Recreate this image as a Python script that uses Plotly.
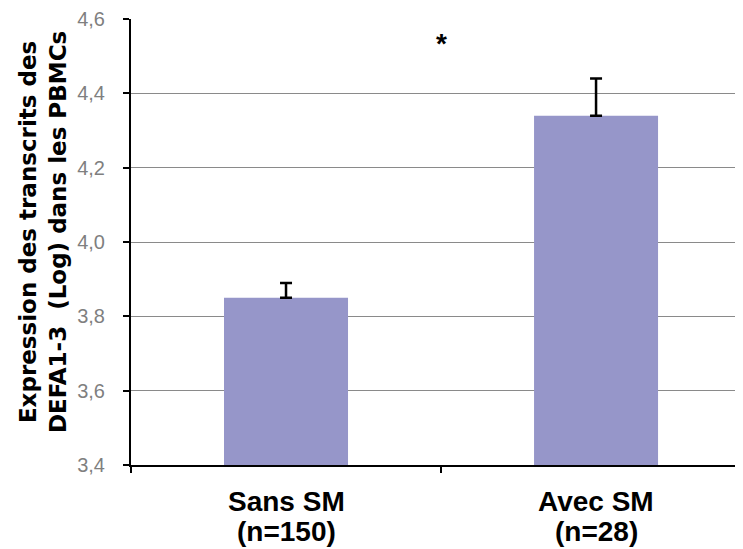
import plotly.graph_objects as go

groups = ["Sans SM", "Avec SM"]
n_labels = ["(n=150)", "(n=28)"]
means = [3.85, 4.34]
err_up = [0.04, 0.10]
y_ticks = [3.4, 3.6, 3.8, 4.0, 4.2, 4.4, 4.6]
y_title = "Expression des transcrits des<br>DEFA1-3  (Log) dans les PBMCs"
sig_label = "*"
sig_y = 4.535

fig = go.Figure()
fig.add_trace(go.Bar(
    x=groups, y=means, width=0.4,
    marker=dict(color="#9696C9", line=dict(width=0)),
    error_y=dict(type="data", array=err_up, arrayminus=[0, 0], symmetric=False,
                 color="black", thickness=2.5, width=6),
))
for g, n in zip(groups, n_labels):
    fig.add_annotation(x=g, y=-0.0826, xref="x", yref="paper", text="<b>" + g + "</b>",
                       showarrow=False, font=dict(family="Liberation Sans, Arial", size=28, color="black"),
                       xanchor="center", yanchor="middle")
    fig.add_annotation(x=g, y=-0.150, xref="x", yref="paper", text="<b>" + n + "</b>",
                       showarrow=False, font=dict(family="Liberation Sans, Arial", size=28, color="black"),
                       xanchor="center", yanchor="middle")
fig.add_annotation(x=0.5, y=sig_y, xref="x", yref="y", text="<b>" + sig_label + "</b>",
                   showarrow=False, font=dict(family="Liberation Sans, Arial", size=28, color="black"),
                   yanchor="middle", xanchor="center")
fig.add_annotation(x=-0.144, y=0.522, xref="paper", yref="paper", text="<b>" + y_title + "</b>",
                   textangle=-90, showarrow=False,
                   font=dict(family="DejaVu Sans", size=23, color="black"),
                   xanchor="center", yanchor="middle")

fig.update_layout(
    width=735, height=541,
    margin=dict(l=123, r=0, t=9, b=84),
    paper_bgcolor="white", plot_bgcolor="white",
    separators=",.",
    showlegend=False,
    font=dict(family="Liberation Sans, Arial"),
)
fig.update_xaxes(
    type="category", range=[-0.5, 1.474],
    showline=True, linecolor="black", linewidth=2,
    ticks="outside", tickson="boundaries", ticklen=6, tickcolor="black", tickwidth=2,
    showticklabels=False,
    showgrid=False,
)
fig.update_yaxes(
    range=[3.4, 4.6], tickvals=y_ticks, tickformat=".1f",
    showline=True, linecolor="black", linewidth=2,
    ticks="outside", ticklen=6, tickcolor="black", tickwidth=2,
    tickfont=dict(family="Liberation Sans, Arial", size=20, color="#7f7f7f"),
    ticklabelstandoff=14, ticklabeloverflow="allow",
    showgrid=True, gridcolor="#8a8a8a", gridwidth=1,
    zeroline=False,
)
fig.write_html("out.html")
